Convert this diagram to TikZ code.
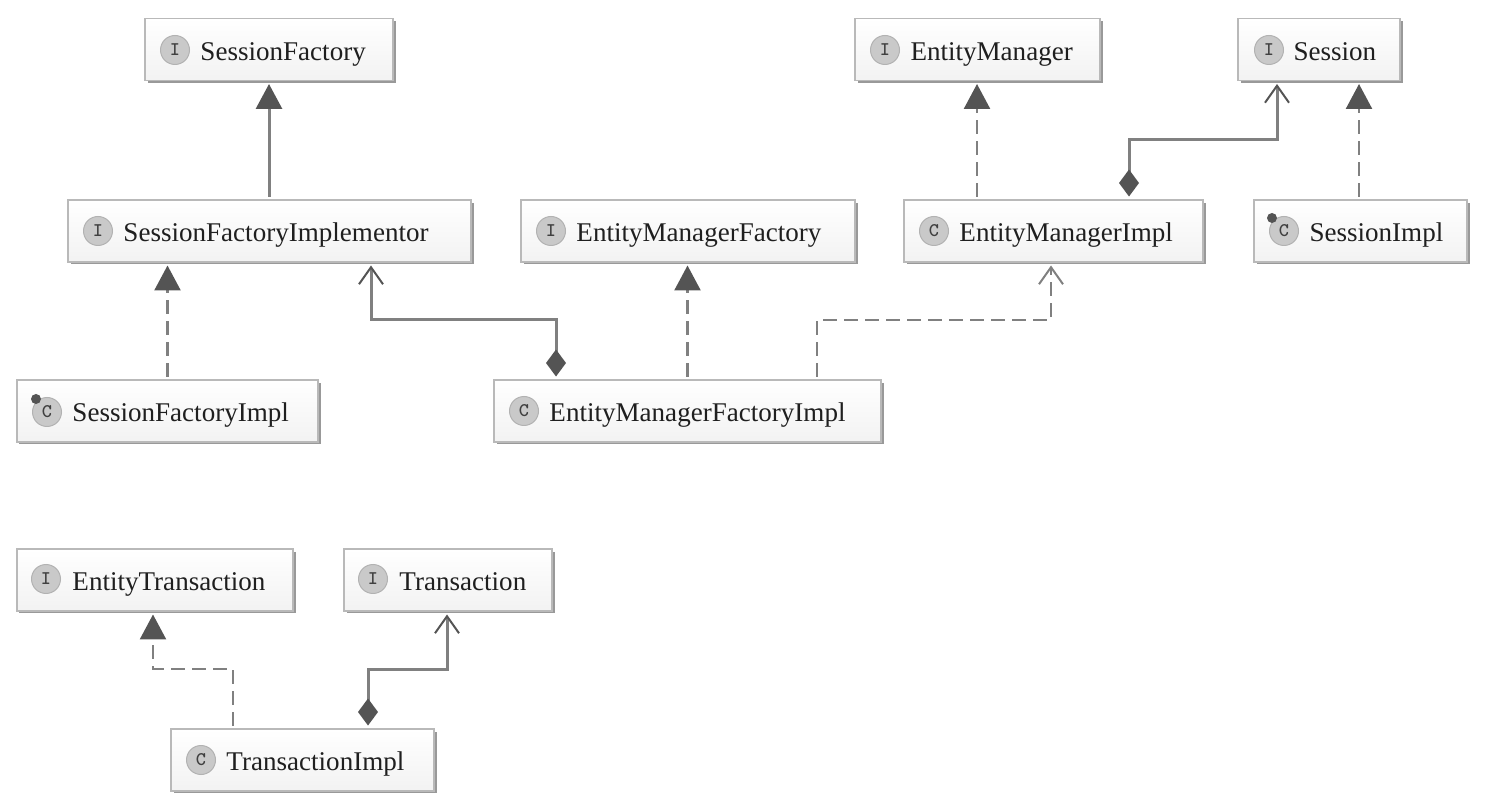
\documentclass[tikz,border=0pt]{standalone}
\usepackage{fontspec}
\setmainfont{Liberation Serif}
\usetikzlibrary{arrows.meta, shadows}

\definecolor{umlline}{gray}{0.5}
\definecolor{umltip}{gray}{0.33}

\tikzset{
    umlbox/.style = {draw = gray!55, line width = 0.03cm, top color = white, bottom color = gray!10,
        drop shadow = {shadow xshift = 0.05cm, shadow yshift = -0.05cm, fill = gray!80, opacity = 1},
        inner xsep = 0pt, inner ysep = 0pt, outer sep = 0.07cm, minimum height = 1.24cm, align = left,
        text height = 0.44cm, text depth = 0.01cm, text = black!88,
        font = \fontsize{15.4}{18}\selectfont, execute at begin node = {\hspace*{1.11cm}}},
    boxw/.style = {text width = #1*0.02cm},
    umlicon/.style = {circle, draw = gray!60, fill = gray!42, line width = 0.02cm, minimum size = 0.58cm,
        inner sep = 0pt, text = black!75, font = \ttfamily\bfseries\fontsize{11}{11}\selectfont},
    umlspot/.style = {circle, fill = umltip, minimum size = 0.2cm, inner sep = 0pt},
    solidtip/.style = {-{Triangle[length = 0.5cm, width = 0.52cm, color = umltip]}},
    opentip/.style = {-{Straight Barb[length = 0.34cm, width = 0.48cm, line width = 0.04cm, color = umlline]}},
    compose/.style = {{Diamond[length = 0.54cm, width = 0.4cm, color = umltip]}-{Straight Barb[length = 0.34cm, width = 0.48cm, line width = 0.04cm, color = umltip]}},
    umlarrow/.style = {line width = 0.06cm, draw = umlline},
    umldash/.style = {umlarrow, line width = 0.05cm, dash pattern = on 0.28cm off 0.14cm}
}

\begin{document}
\begin{tikzpicture}[x = 0.02cm, y = -0.02cm]

    \useasboundingbox (0,0) rectangle (1491,810);

    % Boxes
    \node [umlbox, boxw = 248] (sessionFactory) at (269,49.5) {SessionFactory};
    \node [umlbox, boxw = 403] (factoryImplementor) at (269.5,231) {SessionFactoryImplementor};
    \node [umlbox, boxw = 334] (emFactory) at (688,231) {EntityManagerFactory};
    \node [umlbox, boxw = 245] (entityManager) at (977.5,49.5) {EntityManager};
    \node [umlbox, boxw = 162] (session) at (1319,49.5) {Session};
    \node [umlbox, boxw = 299] (emImpl) at (1053.5,231) {EntityManagerImpl};
    \node [umlbox, boxw = 213] (sessionImpl) at (1360.5,231) {SessionImpl};
    \node [umlbox, boxw = 301] (factoryImpl) at (167.5,411) {SessionFactoryImpl};
    \node [umlbox, boxw = 387] (emFactoryImpl) at (687.5,411) {EntityManagerFactoryImpl};
    \node [umlbox, boxw = 276] (entityTransaction) at (155,580) {EntityTransaction};
    \node [umlbox, boxw = 208] (transaction) at (448,580) {Transaction};
    \node [umlbox, boxw = 263] (transactionImpl) at (302.5,760) {TransactionImpl};

    % Icons
    \node [umlicon] (sessionFactoryIcon) at (175,50) {I};
    \node [umlicon] (factoryImplementorIcon) at (98,231) {I};
    \node [umlicon] (emFactoryIcon) at (551,231) {I};
    \node [umlicon] (entityManagerIcon) at (885,50) {I};
    \node [umlicon] (sessionIcon) at (1269,50) {I};
    \node [umlicon] (emImplIcon) at (934,231) {C};
    \node [umlicon] (sessionImplIcon) at (1284,231) {C};
    \node [umlicon] (factoryImplIcon) at (47,412) {C};
    \node [umlicon] (emFactoryImplIcon) at (524,411) {C};
    \node [umlicon] (entityTransactionIcon) at (46,579) {I};
    \node [umlicon] (transactionIcon) at (373,579) {I};
    \node [umlicon] (transactionImplIcon) at (201,760) {C};
    % Spots
    \node [umlspot] (sessionImplSpot) at (1272,218) {};
    \node [umlspot] (factoryImplSpot) at (36,399) {};

    % Inheritance
    \draw [umlarrow, solidtip] (factoryImplementor.north -| 269,0) -- (sessionFactory.south);

    % Realization
    \draw [umldash, solidtip] (factoryImpl.north) -- (factoryImpl.north |- factoryImplementor.south);
    \draw [umldash, solidtip] (emFactoryImpl.north) -- (emFactoryImpl.north |- emFactory.south);
    \draw [umldash, solidtip] (emImpl.north -| 977,0) -- (entityManager.south -| 977,0);
    \draw [umldash, solidtip] (sessionImpl.north -| 1359,0) -- (session.south -| 1359,0);
    \draw [umldash, solidtip] (transactionImpl.north -| 233,0) |- (153,669) -- (entityTransaction.south -| 153,0);

    % Dependency
    \draw [umldash, opentip] (emFactoryImpl.north -| 817,0) |- (1051,320) -- (emImpl.south -| 1051,0);

    % Composition
    \draw [umlarrow, compose] (emFactoryImpl.north -| 556,0) |- (371,320) -- (factoryImplementor.south -| 371,0);
    \draw [umlarrow, compose] (emImpl.north -| 1129,0) |- (1277,140) -- (session.south -| 1277,0);
    \draw [umlarrow, compose] (transactionImpl.north -| 368,0) |- (447,669) -- (transaction.south -| 447,0);

\end{tikzpicture}
\end{document}
